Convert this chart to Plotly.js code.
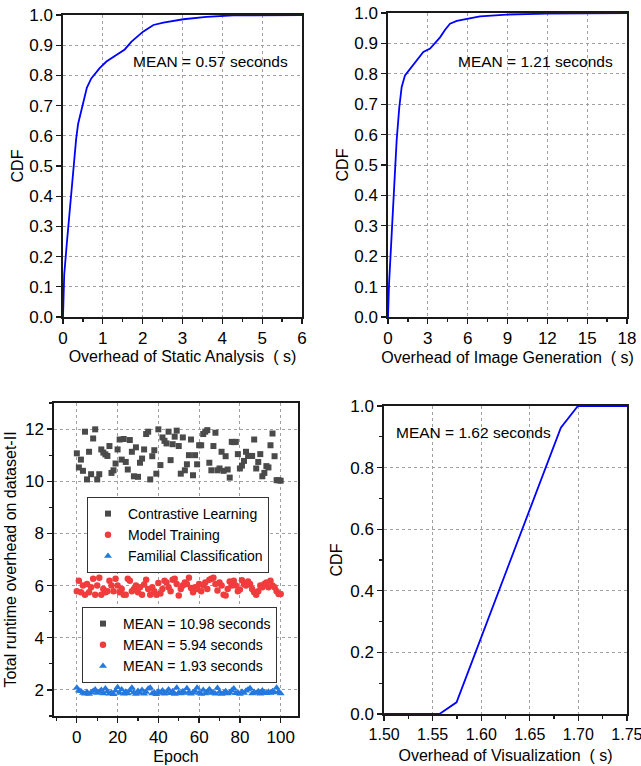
<!DOCTYPE html>
<html>
<head>
<meta charset="utf-8">
<script src="https://cdn.plot.ly/plotly-3.0.1.min.js"></script>
<style>html,body{margin:0;padding:0;background:#fff;}#chart{width:641px;height:766px;}</style>
</head>
<body>
<div id="chart"></div>
<script>
// ---------- DATA ----------
// Top-left: CDF of static analysis overhead (s)
const staticX   = [0, 0.03, 0.10, 0.18, 0.27, 0.33, 0.38, 0.50, 0.60, 0.71, 0.92, 1.09, 1.34, 1.55, 1.72, 2.01, 2.27, 2.52, 3.02, 3.60, 4.28, 6.00];
const staticCDF = [0, 0.14, 0.25, 0.37, 0.50, 0.59, 0.64, 0.71, 0.76, 0.79, 0.824, 0.846, 0.868, 0.886, 0.912, 0.945, 0.967, 0.975, 0.986, 0.994, 0.999, 1.0];

// Top-right: CDF of image generation overhead (s)
const imageX   = [0, 0.08, 0.28, 0.65, 0.85, 1.03, 1.28, 1.66, 2.16, 2.66, 3.17, 3.54, 3.92, 4.30, 4.67, 5.18, 5.93, 6.93, 8.94, 11.96, 18];
const imageCDF = [0, 0.11, 0.275, 0.58, 0.69, 0.757, 0.795, 0.817, 0.845, 0.872, 0.883, 0.90, 0.92, 0.945, 0.965, 0.974, 0.981, 0.989, 0.995, 0.998, 1.0];

// Bottom-right: CDF of visualization overhead (s)
const visX   = [1.50, 1.557, 1.5746, 1.682, 1.6995, 1.75];
const visCDF = [0, 0, 0.038, 0.930, 1.0, 1.0];

// Bottom-left: total runtime per epoch on dataset-II
const epochs = [0,1,2,3,4,5,6,7,8,9,10,11,12,13,14,15,16,17,18,19,20,21,22,23,24,25,26,27,28,29,30,31,32,33,34,35,36,37,38,39,40,41,42,43,44,45,46,47,48,49,50,51,52,53,54,55,56,57,58,59,60,61,62,63,64,65,66,67,68,69,70,71,72,73,74,75,76,77,78,79,80,81,82,83,84,85,86,87,88,89,90,91,92,93,94,95,96,97,98,99,100];
const contrastive = [11.07,10.53,10.83,10.40,11.90,10.07,11.13,10.27,11.64,11.99,
  10.07,10.27,11.22,11.10,11.03,10.97,11.35,10.32,10.42,10.68,
  11.22,11.60,10.83,11.62,10.74,10.45,11.58,11.13,10.19,11.30,
  10.17,10.71,10.87,11.22,11.81,11.90,10.07,10.96,11.19,10.29,
  11.99,10.62,11.68,11.55,11.45,11.90,10.81,11.42,11.71,11.94,
  11.35,10.29,11.68,10.42,10.65,11.00,11.60,10.23,11.00,10.65,
  11.38,11.38,11.81,11.90,11.96,10.71,10.42,11.35,11.86,10.42,
  10.49,11.13,10.40,10.96,10.45,10.14,11.51,11.50,11.51,11.04,
  10.49,10.60,10.78,11.13,10.97,10.97,10.97,11.60,10.49,10.74,
  11.04,10.19,10.32,10.58,10.53,11.38,11.83,10.96,10.04,10.04,
  10.02];
const training = [5.78,6.19,5.74,6.00,5.65,6.06,5.74,5.94,6.26,5.65,
  6.00,6.30,5.65,5.87,5.74,5.78,6.19,6.00,5.78,6.26,
  6.00,5.74,5.87,5.65,5.65,6.26,6.19,5.78,5.87,6.00,
  5.74,5.94,5.65,6.04,6.22,5.87,5.65,5.94,5.78,5.65,
  6.10,5.70,5.87,6.19,6.12,5.94,5.78,6.22,6.26,6.06,
  5.62,5.87,6.00,6.12,6.06,6.30,5.91,5.74,5.94,5.87,
  6.06,5.78,6.00,6.12,5.87,6.22,6.26,6.30,6.06,5.81,
  6.12,6.00,5.65,5.62,5.87,6.16,6.00,6.19,6.00,5.78,
  5.85,6.20,6.06,6.00,6.16,6.06,5.87,5.74,5.65,5.78,
  6.00,5.94,6.06,6.12,5.94,6.19,6.00,5.94,5.78,5.68,
  5.68];
const familial = [2.08,1.98,1.95,1.88,1.85,1.92,1.84,1.90,1.96,2.02,
  1.88,1.93,2.00,1.86,2.05,1.94,1.85,1.90,1.83,1.97,
  2.10,1.88,2.02,1.85,1.93,1.86,1.98,2.08,1.90,1.84,
  1.96,1.88,2.00,1.85,1.92,2.04,2.08,1.86,1.90,1.83,
  1.95,1.88,1.98,1.85,1.92,2.02,1.87,1.95,1.84,2.08,
  1.90,1.86,1.95,1.88,2.06,1.92,1.85,1.90,1.96,2.08,
  1.88,1.84,2.00,1.86,1.93,2.03,1.88,1.90,1.85,2.07,
  1.92,1.84,1.88,1.95,1.86,1.90,1.98,2.05,1.87,1.90,
  1.84,1.93,1.88,1.97,2.02,2.06,1.86,1.92,1.88,1.95,
  1.85,1.98,1.90,1.87,1.93,1.88,1.95,1.90,2.08,1.93,
  1.86];

const seriesNames = ['Contrastive Learning', 'Model Training', 'Familial Classification'];
const meanLabels  = ['MEAN = 10.98 seconds', 'MEAN = 5.94 seconds', 'MEAN = 1.93 seconds'];
const cdfMeanLabels = ['MEAN = 0.57 seconds', 'MEAN = 1.21 seconds', 'MEAN = 1.62 seconds'];

// ---------- STYLE / LAYOUT ----------
const W = 641, H = 766;
const FONT = 'Arial, "Liberation Sans", sans-serif';
const px = v => v / W;
const py = v => 1 - v / H;
const LINE = '#0000ff';
const COLORS = ['#4a4a4a', '#f03c3c', '#2479e0'];
const SYMBOLS = ['square', 'circle', 'triangle-up'];
const SIZES = [6, 6.5, 7];

const traces = [
  {x: staticX, y: staticCDF, xaxis: 'x', yaxis: 'y', mode: 'lines', line: {color: LINE, width: 1.8}, showlegend: false},
  {x: imageX, y: imageCDF, xaxis: 'x2', yaxis: 'y2', mode: 'lines', line: {color: LINE, width: 1.8}, showlegend: false},
  {x: visX, y: visCDF, xaxis: 'x4', yaxis: 'y4', mode: 'lines', line: {color: LINE, width: 1.8}, showlegend: false}
];
const scatterSeries = [contrastive, training, familial];
scatterSeries.forEach((vals, i) => {
  traces.push({x: epochs, y: vals, xaxis: 'x3', yaxis: 'y3', mode: 'markers', name: seriesNames[i],
    marker: {symbol: SYMBOLS[i], color: COLORS[i], size: SIZES[i]}, legend: 'legend', showlegend: true});
});
scatterSeries.forEach((vals, i) => {
  traces.push({x: [null], y: [null], xaxis: 'x3', yaxis: 'y3', mode: 'markers', name: meanLabels[i],
    marker: {symbol: SYMBOLS[i], color: COLORS[i], size: SIZES[i]}, legend: 'legend2', showlegend: true});
});

const tickFont = {family: FONT, size: 17, color: '#000'};
const titleFont = {family: FONT, size: 16, color: '#000'};

function mainAxis(o) {
  return Object.assign({
    showline: true, linecolor: '#1a1a1a', linewidth: 1.6, mirror: true,
    ticks: 'outside', ticklen: 5, tickwidth: 1.3, tickcolor: '#1a1a1a',
    showgrid: true, gridcolor: '#a0a0a0', griddash: 'dot', gridwidth: 1,
    zeroline: false, tickfont: tickFont, fixedrange: true, ticklabeloverflow: 'allow'
  }, o);
}
function mirrorAxis(o) {
  return Object.assign({
    showline: false, ticks: 'inside', ticklen: 5, tickwidth: 1.3, tickcolor: '#1a1a1a',
    showticklabels: false, showgrid: false, zeroline: false, fixedrange: true
  }, o);
}
function minor(d) { return {dtick: d, ticks: 'outside', ticklen: 3}; }
function minorIn(d) { return {dtick: d, ticks: 'inside', ticklen: 3}; }

// subplot boxes in pixels: [left, right, top, bottom]
const boxTL = [63, 302, 15, 317];
const boxTR = [388, 627, 13, 317];
const boxBL = [54, 298, 403, 716];
const boxBR = [384, 627, 406, 714];
const dx = b => [px(b[0]), px(b[1])];
const dy = b => [py(b[3]), py(b[2])];

const rTL = [0, 6], rTR = [0, 18], rBL = [-11.2, 108.5], rBR = [1.4999, 1.7501];
const rCDF = [0, 1.0001], rBLy = [1, 13];

const layout = {
  width: W, height: H,
  margin: {l: 0, r: 0, t: 0, b: 0},
  paper_bgcolor: '#fff', plot_bgcolor: '#fff',
  font: {family: FONT, color: '#000'},
  // top-left
  xaxis: mainAxis({domain: dx(boxTL), anchor: 'y', range: rTL, dtick: 1, tick0: 0, minor: minor(0.5),
    title: {text: 'Overhead of Static Analysis  ( s)', font: titleFont, standoff: 3}}),
  yaxis: mainAxis({domain: dy(boxTL), anchor: 'x', range: rCDF, dtick: 0.1, tick0: 0, tickformat: '.1f',
    title: {text: 'CDF', font: titleFont, standoff: 2}}),
  // top-right
  xaxis2: mainAxis({domain: dx(boxTR), anchor: 'y2', range: rTR, dtick: 3, tick0: 0, minor: minor(1.5),
    title: {text: 'Overhead of Image Generation  ( s)', font: titleFont, standoff: 5}}),
  yaxis2: mainAxis({domain: dy(boxTR), anchor: 'x2', range: rCDF, dtick: 0.1, tick0: 0, tickformat: '.1f',
    title: {text: 'CDF', font: titleFont, standoff: 2}}),
  // bottom-left
  xaxis3: mainAxis({domain: dx(boxBL), anchor: 'y3', range: rBL, dtick: 20, tick0: 0, minor: minor(10),
    title: {text: 'Epoch', font: titleFont, standoff: 5}}),
  yaxis3: mainAxis({domain: dy(boxBL), anchor: 'x3', range: rBLy, dtick: 2, tick0: 0, minor: minor(1),
    title: {text: 'Total runtime overhead on dataset-II', font: titleFont, standoff: 4}}),
  // bottom-right
  xaxis4: mainAxis({domain: dx(boxBR), anchor: 'y4', range: rBR, dtick: 0.05, tick0: 1.5, tickformat: '.2f', minor: minor(0.025),
    tickfont: {family: FONT, size: 16, color: '#000'},
    title: {text: 'Overhead of Visualization  ( s)', font: titleFont, standoff: 8}}),
  yaxis4: mainAxis({domain: dy(boxBR), anchor: 'x4', range: rCDF, dtick: 0.2, tick0: 0, tickformat: '.1f', minor: minor(0.1),
    title: {text: 'CDF', font: titleFont, standoff: 4}}),
  // mirrored inward ticks on top / right edges
  xaxis5: mirrorAxis({overlaying: 'x', anchor: 'y', side: 'top', range: rTL, dtick: 1, tick0: 0, minor: minorIn(0.5)}),
  yaxis5: mirrorAxis({overlaying: 'y', anchor: 'x', side: 'right', range: rCDF, dtick: 0.1, tick0: 0}),
  xaxis6: mirrorAxis({overlaying: 'x2', anchor: 'y2', side: 'top', range: rTR, dtick: 3, tick0: 0, minor: minorIn(1.5)}),
  yaxis6: mirrorAxis({overlaying: 'y2', anchor: 'x2', side: 'right', range: rCDF, dtick: 0.1, tick0: 0}),
  xaxis7: mirrorAxis({overlaying: 'x3', anchor: 'y3', side: 'top', range: rBL, dtick: 20, tick0: 0, minor: minorIn(10)}),
  yaxis7: mirrorAxis({overlaying: 'y3', anchor: 'x3', side: 'right', range: rBLy, dtick: 2, tick0: 0, minor: minorIn(1)}),
  xaxis8: mirrorAxis({overlaying: 'x4', anchor: 'y4', side: 'top', range: rBR, dtick: 0.05, tick0: 1.5, minor: minorIn(0.025)}),
  yaxis8: mirrorAxis({overlaying: 'y4', anchor: 'x4', side: 'right', range: rCDF, dtick: 0.2, tick0: 0, minor: minorIn(0.1)}),
  legend: {x: px(87), y: py(497), xref: 'paper', yref: 'paper', xanchor: 'left', yanchor: 'top',
    bgcolor: '#fff', bordercolor: '#333', borderwidth: 1, font: {family: FONT, size: 14, color: '#000'},
    tracegroupgap: 0, traceorder: 'normal'},
  legend2: {x: px(82), y: py(607), xref: 'paper', yref: 'paper', xanchor: 'left', yanchor: 'top',
    bgcolor: '#fff', bordercolor: '#333', borderwidth: 1, font: {family: FONT, size: 14, color: '#000'},
    tracegroupgap: 0, traceorder: 'normal'},
  annotations: [
    {text: cdfMeanLabels[0], x: px(210), y: py(62), xref: 'paper', yref: 'paper', xanchor: 'center', yanchor: 'middle', showarrow: false,
      font: {family: FONT, size: 15.5, color: '#000'}},
    {text: cdfMeanLabels[1], x: px(535), y: py(61), xref: 'paper', yref: 'paper', xanchor: 'center', yanchor: 'middle', showarrow: false,
      font: {family: FONT, size: 15.5, color: '#000'}},
    {text: cdfMeanLabels[2], x: px(473), y: py(432), xref: 'paper', yref: 'paper', xanchor: 'center', yanchor: 'middle', showarrow: false,
      font: {family: FONT, size: 15.5, color: '#000'}}
  ]
};

Plotly.newPlot('chart', traces, layout, {displayModeBar: false, staticPlot: true});
</script>
</body>
</html>
